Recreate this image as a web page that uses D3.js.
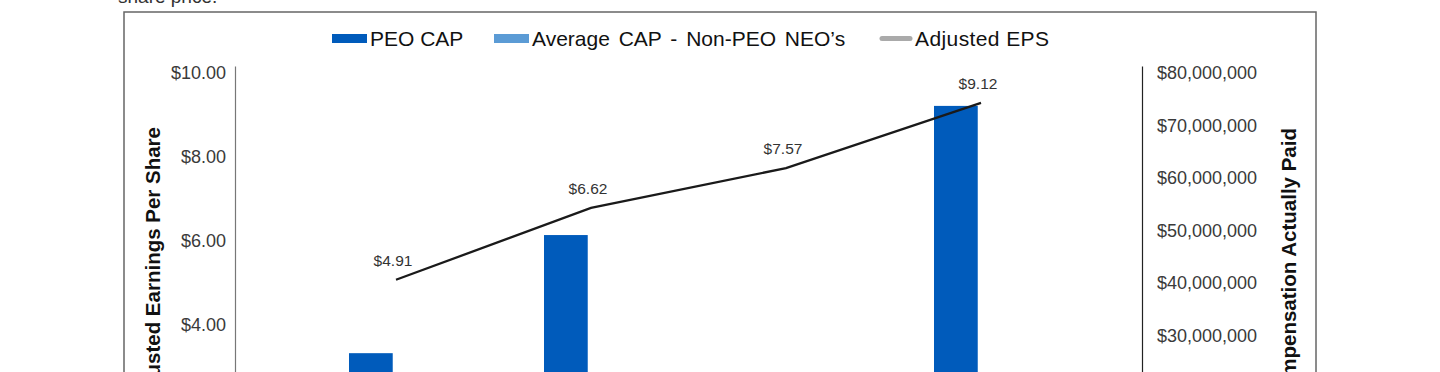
<!DOCTYPE html>
<html>
<head>
<meta charset="utf-8">
<script src="https://cdn.jsdelivr.net/npm/d3@7"></script>
<style>
  body { margin: 0; background: #fff; }
  svg text { font-family: Arial, "Liberation Sans", Helvetica, sans-serif; }
</style>
</head>
<body>
<div id="chart"></div>
<script>
// data
var years = ["2021", "2022", "2023", "2024"];
var peoCap = [25300000, 47800000, 14500000, 72400000];
var neoCap = [7200000, 12800000, 4500000, 18500000];
var adjEps = [4.91, 6.62, 7.57, 9.12];
var epsTicks = [0, 2, 4, 6, 8, 10];
var capTicks = [0, 10000000, 20000000, 30000000, 40000000, 50000000, 60000000, 70000000, 80000000];

var width = 1440, height = 372;

var svg = d3.select("#chart")
  .append("svg")
    .attr("width", width)
    .attr("height", height);

// text above the frame, cut off at the top
svg.append("text")
  .attr("x", 118)
  .attr("y", 3)
  .style("font-size", "19px")
  .style("fill", "#333")
  .text("share price.");

// frame
svg.append("rect")
  .attr("x", 124)
  .attr("y", 12)
  .attr("width", 1192)
  .attr("height", 700)
  .style("fill", "none")
  .style("stroke", "#666")
  .style("stroke-width", 1.5);

// scales
var x = d3.scalePoint()
  .domain(years)
  .range([235, 1142])
  .padding(0.8256);

var x1 = d3.scaleBand()
  .domain(["peo", "neo"])
  .range([-47, 47])
  .paddingInner(0.13);

var yL = d3.scaleLinear()
  .domain([0, 10])
  .range([486, 66]);

var yR = d3.scaleLinear()
  .domain([0, 80000000])
  .range([486, 66]);

// left axis
var leftAxis = d3.axisLeft(yL)
  .tickValues(epsTicks)
  .tickSize(0)
  .tickPadding(9)
  .tickFormat(function(d) { return "$" + d.toFixed(2); });

var gl = svg.append("g")
  .attr("transform", "translate(235,0)")
  .call(leftAxis);
gl.select(".domain").style("stroke", "#777").style("stroke-width", 1.2);
gl.selectAll("text")
  .attr("dy", "0.71em")
  .style("font-size", "18px")
  .style("fill", "#3a3a3a");

// right axis
var rightAxis = d3.axisRight(yR)
  .tickValues(capTicks)
  .tickSize(0)
  .tickPadding(15)
  .tickFormat(function(d) { return "$" + d3.format(",")(d); });

var gr = svg.append("g")
  .attr("transform", "translate(1142,0)")
  .call(rightAxis);
gr.select(".domain").style("stroke", "#222").style("stroke-width", 1.2);
gr.selectAll("text")
  .attr("dy", "0.71em")
  .style("font-size", "18px")
  .style("fill", "#3a3a3a");

// axis titles
svg.append("text")
  .attr("transform", "translate(160,127) rotate(-90)")
  .style("text-anchor", "end")
  .style("font-size", "20.5px")
  .style("font-weight", "bold")
  .style("fill", "#111")
  .text("Adjusted Earnings Per Share");

svg.append("text")
  .attr("transform", "translate(1296,128) rotate(-90)")
  .style("text-anchor", "end")
  .style("font-size", "20.5px")
  .style("font-weight", "bold")
  .style("fill", "#111")
  .text("Compensation Actually Paid");

// bars
var bars = svg.append("g");
bars.selectAll(".peo")
  .data(years)
  .enter()
  .append("rect")
    .attr("class", "peo")
    .attr("x", function(d) { return x(d) + x1("peo"); })
    .attr("width", x1.bandwidth())
    .attr("y", function(d, i) { return yR(peoCap[i]); })
    .attr("height", function(d, i) { return yR(0) - yR(peoCap[i]); })
    .style("fill", "#005BBB");

bars.selectAll(".neo")
  .data(years)
  .enter()
  .append("rect")
    .attr("class", "neo")
    .attr("x", function(d) { return x(d) + x1("neo"); })
    .attr("width", x1.bandwidth())
    .attr("y", function(d, i) { return yR(neoCap[i]); })
    .attr("height", function(d, i) { return yR(0) - yR(neoCap[i]); })
    .style("fill", "#5B9BD5");

// EPS line
var line = d3.line()
  .x(function(d, i) { return x(years[i]); })
  .y(function(d) { return yL(d); });

svg.append("path")
  .datum(adjEps)
  .attr("d", line)
  .style("fill", "none")
  .style("stroke", "#1a1a1a")
  .style("stroke-width", 2.3);

svg.append("g")
  .selectAll("text")
  .data(adjEps)
  .enter()
  .append("text")
    .attr("x", function(d, i) { return x(years[i]) - 3; })
    .attr("y", function(d) { return yL(d) - 14; })
    .style("text-anchor", "middle")
    .style("font-size", "15.5px")
    .style("fill", "#333")
    .text(function(d) { return "$" + d.toFixed(2); });

// legend
var legend = [
  {label: "PEO CAP", color: "#005BBB", x: 332, w: 35, type: "rect"},
  {label: "Average CAP - Non-PEO NEO\u2019s", color: "#5B9BD5", x: 494, w: 35, type: "rect"},
  {label: "Adjusted EPS", color: "#aaaaaa", x: 882, w: 28, type: "line"}
];

var lg = svg.append("g");
legend.forEach(function(l) {
  if (l.type === "rect") {
    lg.append("rect")
      .attr("x", l.x)
      .attr("y", 34)
      .attr("width", l.w)
      .attr("height", 9)
      .style("fill", l.color);
  } else {
    lg.append("line")
      .attr("x1", l.x)
      .attr("x2", l.x + l.w)
      .attr("y1", 38.5)
      .attr("y2", 38.5)
      .style("stroke", l.color)
      .style("stroke-width", 5)
      .style("stroke-linecap", "round");
  }
  lg.append("text")
    .attr("x", l.x + (l.type === "rect" ? l.w + 3 : l.w + 5))
    .attr("y", 46)
    .style("font-size", "21px")
    .style("word-spacing", l.type === "rect" && l.x > 400 ? "3px" : "0px")
    .style("letter-spacing", l.type === "line" ? "0.4px" : "0px")
    .style("fill", "#111")
    .text(l.label);
});
</script>
</body>
</html>
